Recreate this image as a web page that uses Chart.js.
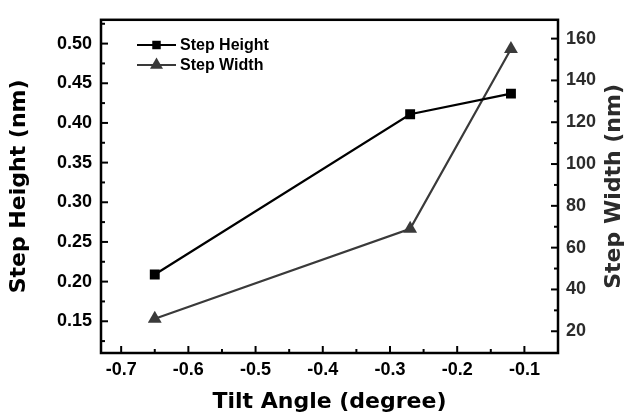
<!DOCTYPE html>
<html>
<head>
<meta charset="utf-8">
<script src="https://cdn.jsdelivr.net/npm/chart.js@4.4.1/dist/chart.umd.min.js"></script>
<style>
  html, body { margin: 0; padding: 0; background: #fff; }
  #wrap { width: 629px; height: 420px; }
</style>
</head>
<body>
<div id="wrap"><canvas id="stepChart"></canvas></div>
<script>
// Tilt angle (degree) against step height / step width
const tiltAngle = [-0.65, -0.27, -0.12];
const stepHeight = [0.209, 0.411, 0.437];   // nm
const stepWidth = [26, 69, 155];            // nm

const xTicks = [-0.7, -0.6, -0.5, -0.4, -0.3, -0.2, -0.1];
const heightTicks = [0.15, 0.20, 0.25, 0.30, 0.35, 0.40, 0.45, 0.50];
const widthTicks = [20, 40, 60, 80, 100, 120, 140, 160];

const BLACK = '#000';
const GREY = '#3a3a3a';
const tickFont = { family: '"Liberation Sans"', size: 18, weight: 'bold' };
const titleFont = { family: '"DejaVu Sans"', size: 22, weight: 'bold' };

function toPoints(xs, ys) {
    return xs.map((x, i) => ({ x: x, y: ys[i] }));
}

function useTicks(values) {
    return scale => { scale.ticks = values.map(v => ({ value: v })); };
}

// midpoints between major ticks (one step past each end too)
function minorValues(values) {
    const step = values[1] - values[0];
    const out = [values[0] - step / 2];
    values.forEach(v => out.push(v + step / 2));
    return out;
}

function drawMarker(ctx, style, x, y, r) {
    ctx.beginPath();
    if (style === 'rect') {
        const s = r * Math.SQRT1_2;
        ctx.rect(x - s, y - s, 2 * s, 2 * s);
    } else {
        ctx.moveTo(x, y - r);
        ctx.lineTo(x + r * Math.sin(Math.PI * 2 / 3), y + r / 2);
        ctx.lineTo(x - r * Math.sin(Math.PI * 2 / 3), y + r / 2);
        ctx.closePath();
    }
    ctx.fill();
}

// box frame, inward tick marks, right-hand title and the inset legend
const framePlugin = {
    id: 'frame',
    afterDatasetsDraw(chart) {
        const { ctx, chartArea: a, scales } = chart;
        ctx.save();
        ctx.strokeStyle = BLACK;
        ctx.lineWidth = 2.5;
        ctx.strokeRect(a.left, a.top, a.right - a.left, a.bottom - a.top);

        ctx.lineWidth = 2;
        const marks = (scale, values, len) => {
            values.forEach(v => {
                const p = scale.getPixelForValue(v);
                ctx.beginPath();
                if (scale.axis === 'x') {
                    if (p < a.left + 2 || p > a.right - 2) return;
                    ctx.moveTo(p, a.bottom);
                    ctx.lineTo(p, a.bottom - len);
                } else {
                    if (p < a.top + 2 || p > a.bottom - 2) return;
                    const edge = scale.position === 'left' ? a.left : a.right;
                    const dir = scale.position === 'left' ? 1 : -1;
                    ctx.moveTo(edge, p);
                    ctx.lineTo(edge + dir * len, p);
                }
                ctx.stroke();
            });
        };
        marks(scales.x, xTicks, 7);
        marks(scales.x, minorValues(xTicks), 4);
        marks(scales.yHeight, heightTicks, 7);
        marks(scales.yHeight, minorValues(heightTicks), 4);
        marks(scales.yWidth, widthTicks, 7);
        marks(scales.yWidth, minorValues(widthTicks), 4);

        // right axis title, reading bottom to top
        ctx.save();
        ctx.translate(614, (a.top + a.bottom) / 2);
        ctx.rotate(-Math.PI / 2);
        ctx.fillStyle = '#2b2b2b';
        ctx.font = 'bold 22px "DejaVu Sans"';
        ctx.textAlign = 'center';
        ctx.textBaseline = 'middle';
        ctx.fillText('Step Width (nm)', 0, 0);
        ctx.restore();

        // legend
        chart.data.datasets.forEach((ds, i) => {
            const y = 45 + i * 20;
            ctx.strokeStyle = ds.borderColor;
            ctx.fillStyle = ds.borderColor;
            ctx.lineWidth = 2;
            ctx.beginPath();
            ctx.moveTo(137, y);
            ctx.lineTo(176, y);
            ctx.stroke();
            drawMarker(ctx, ds.pointStyle, 156.5, y, ds.pointStyle === 'rect' ? 6 : 7.5);
            ctx.fillStyle = BLACK;
            ctx.font = 'bold 16px "Liberation Sans"';
            ctx.textAlign = 'left';
            ctx.textBaseline = 'middle';
            ctx.fillText(ds.label, 180, y + 1);
        });
        ctx.restore();
    }
};

new Chart(document.getElementById('stepChart'), {
    type: 'scatter',
    data: {
        datasets: [{
            label: 'Step Height',
            data: toPoints(tiltAngle, stepHeight),
            yAxisID: 'yHeight',
            showLine: true,
            borderColor: BLACK,
            backgroundColor: BLACK,
            borderWidth: 2.2,
            pointStyle: 'rect',
            pointRadius: 7,
            pointBorderWidth: 0
        }, {
            label: 'Step Width',
            data: toPoints(tiltAngle, stepWidth),
            yAxisID: 'yWidth',
            showLine: true,
            borderColor: GREY,
            backgroundColor: GREY,
            borderWidth: 2.2,
            pointStyle: 'triangle',
            pointRadius: 8,
            pointBorderWidth: 0
        }]
    },
    options: {
        responsive: true,
        maintainAspectRatio: false,
        animation: false,
        devicePixelRatio: 1,
        layout: { padding: { top: 14 } },
        plugins: {
            legend: { display: false },
            tooltip: { enabled: false }
        },
        scales: {
            x: {
                type: 'linear',
                min: -0.73,
                max: -0.05,
                afterBuildTicks: useTicks(xTicks),
                afterFit: s => { s.height = 67; },
                grid: { display: false, drawTicks: false },
                border: { display: false },
                ticks: {
                    color: BLACK,
                    font: tickFont,
                    padding: 6,
                    callback: v => v.toFixed(1)
                },
                title: {
                    display: true,
                    text: 'Tilt Angle (degree)',
                    color: BLACK,
                    font: titleFont,
                    padding: { top: 0, bottom: 5 }
                }
            },
            yHeight: {
                position: 'left',
                min: 0.11,
                max: 0.53,
                afterBuildTicks: useTicks(heightTicks),
                afterFit: s => { s.width = 101; },
                grid: { display: false, drawTicks: false },
                border: { display: false },
                ticks: {
                    color: BLACK,
                    font: tickFont,
                    padding: 9,
                    callback: v => v.toFixed(2)
                },
                title: {
                    display: true,
                    text: 'Step Height (nm)',
                    color: BLACK,
                    font: titleFont,
                    padding: { top: 6, bottom: 0 }
                }
            },
            yWidth: {
                position: 'right',
                min: 9.6,
                max: 169,
                afterBuildTicks: useTicks(widthTicks),
                afterFit: s => { s.width = 71; },
                grid: { display: false, drawTicks: false },
                border: { display: false },
                ticks: {
                    color: '#2b2b2b',
                    font: tickFont,
                    padding: 8,
                    callback: v => String(v)
                }
            }
        }
    },
    plugins: [framePlugin]
});
</script>
</body>
</html>
